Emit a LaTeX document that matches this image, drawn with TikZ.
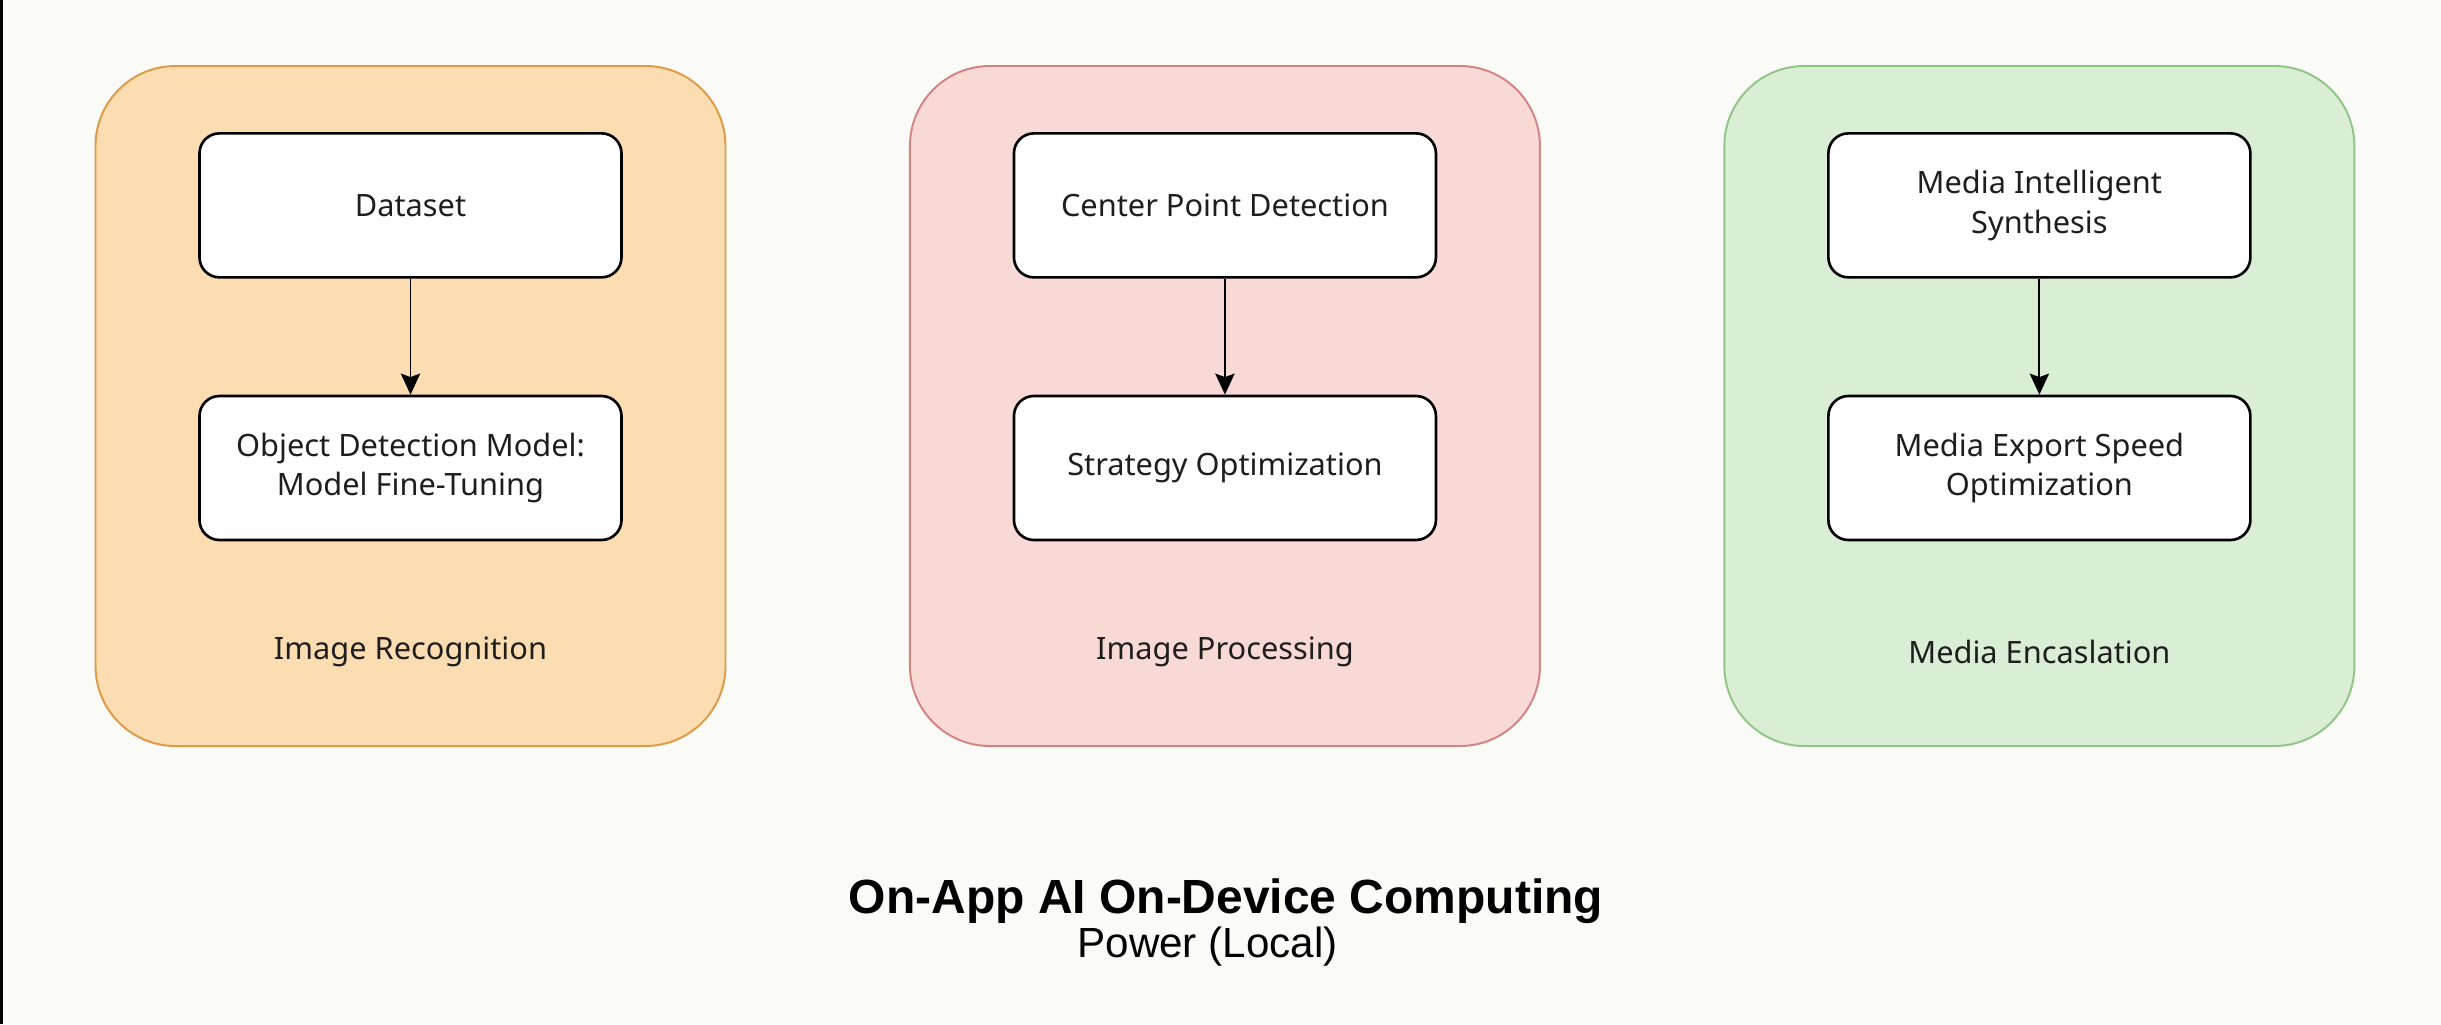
\documentclass[tikz,border=0pt]{standalone}
\usepackage{fontspec}
\setmainfont{Noto Sans}
\newfontfamily\headfont{Liberation Sans}
\usepackage{tikz}
\usetikzlibrary{positioning,arrows.meta}

\definecolor{bgcol}{HTML}{FAFAF7}
\definecolor{orfill}{HTML}{FCDDB1}
\definecolor{ordraw}{HTML}{DE9A45}
\definecolor{rdfill}{HTML}{F9D9D6}
\definecolor{rddraw}{HTML}{D38383}
\definecolor{grfill}{HTML}{DAEED6}
\definecolor{grdraw}{HTML}{8FC685}
\definecolor{txtcol}{HTML}{1E1E1E}

\begin{document}
\begin{tikzpicture}[%
        ->,
        >={Stealth[length=12pt,width=11pt,inset=2pt]},
        line width=1.1pt,
        node distance=2.32cm,
        panel/.style={%
          rectangle,
          rounded corners=1.6cm,
          minimum width=12.6cm,
          minimum height=13.6cm,
          line width=1.1pt
        },
        stepbox/.style={%
          rectangle,
          rounded corners=0.4cm,
          draw=black, fill=white,
          minimum width=8.44cm,
          minimum height=2.88cm,
          line width=1.5pt,
          align=center, text=txtcol,
          font=\fontsize{17.5}{22.5}\selectfont
        },
        caption/.style={text=txtcol,font=\fontsize{17.5}{22.5}\selectfont}
      ]
      % canvas
      \fill[bgcol] (0,0) rectangle (48.82,-20.48);
      \fill[black] (0,0) rectangle (0.06,-20.48);
      \useasboundingbox (0,0) rectangle (48.82,-20.48);

      % three panels
      \node[panel,fill=orfill,draw=ordraw] (p1) at (8.21,-8.12) {};
      \node[panel,fill=rdfill,draw=rddraw] (p2) [right=3.65cm of p1] {};
      \node[panel,fill=grfill,draw=grdraw] (p3) [right=3.65cm of p2] {};

      \node[stepbox] (ds) [below=1.34cm of p1.north] {Dataset};
      \node[stepbox] (odm) [below=of ds] {Object Detection Model:\\Model Fine-Tuning};
      \node[caption] (l1) at ([yshift=1.9cm]p1.south) {Image Recognition};

      \node[stepbox] (cpd) [below=1.34cm of p2.north] {Center Point Detection};
      \node[stepbox] (so) [below=of cpd] {Strategy Optimization};
      \node[caption] (l2) at ([yshift=1.9cm]p2.south) {Image Processing};

      \node[stepbox] (mis) [below=1.34cm of p3.north] {Media Intelligent\\Synthesis};
      \node[stepbox] (mes) [below=of mis] {Media Export Speed\\Optimization};
      \node[caption] (l3) at ([yshift=1.9cm]p3.south) {Media Encaslation};

      \path (ds) edge [] node {} (odm)
      (cpd) edge [] node {} (so)
      (mis) edge [] node {} (mes);

      % footer
      \node[font=\headfont\bfseries\fontsize{27.3}{32}\selectfont,anchor=base] (title) at (24.52,-18.26) {On-App AI On-Device Computing};
      \node[font=\headfont\fontsize{24}{28}\selectfont,anchor=base] (sub) at (24.15,-19.14) {Power (Local)};
  \end{tikzpicture}
\end{document}
